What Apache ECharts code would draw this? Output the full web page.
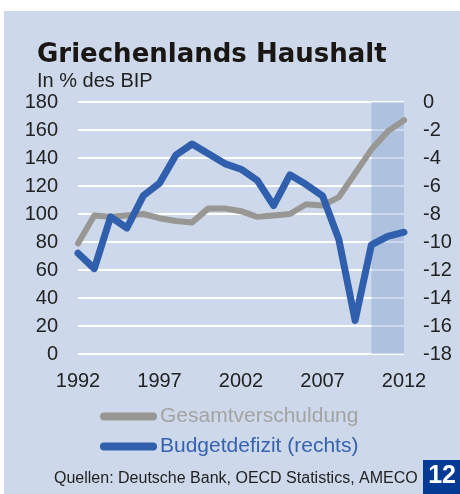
<!DOCTYPE html>
<html>
<head>
<meta charset="utf-8">
<script src="https://cdn.jsdelivr.net/npm/echarts@6/dist/echarts.min.js"></script>
<style>
  html, body { margin: 0; padding: 0; background: #ffffff; }
  #chart { position: absolute; left: 4px; top: 11px; width: 456px; height: 483px; }
</style>
</head>
<body>
<div id="chart"></div>
<script>
var years = ['1992','1993','1994','1995','1996','1997','1998','1999','2000','2001','2002',
	'2003','2004','2005','2006','2007','2008','2009','2010','2011','2012'];
// Gesamtverschuldung, linke Achse
var schulden = [79, 99, 98, 99, 100, 97, 95, 94, 104, 104, 102, 98, 99, 100, 107, 106, 112, 129, 146, 159, 167];
// Budgetdefizit, rechte Achse
var defizit = [-10.8, -11.9, -8.2, -9.0, -6.7, -5.8, -3.8, -3.0, -3.7, -4.4, -4.8, -5.6, -7.4, -5.2, -5.9, -6.7, -9.8, -15.6, -10.2, -9.6, -9.3];
var prognoseVon = '2010';
var prognoseBis = '2012';

var font = '"Liberation Sans", Arial, sans-serif';
var myChart = echarts.init(document.getElementById('chart'));

myChart.setOption({
	backgroundColor: '#cdd8ea',
	animation: false,
	title: [{
		text: 'Griechenlands Haushalt',
		left: 33,
		top: 31,
		padding: 0,
		textStyle: { fontFamily: '"DejaVu Sans", sans-serif', fontWeight: 'bold', fontSize: 26, color: '#1a1614' }
	}, {
		text: 'In % des BIP',
		left: 33,
		top: 60,
		padding: 0,
		textStyle: { fontFamily: font, fontWeight: 'normal', fontSize: 20, color: '#222' }
	}, {
		text: 'Quellen: Deutsche Bank, OECD Statistics, AMECO',
		left: 50,
		top: 460,
		padding: 0,
		textStyle: { fontFamily: font, fontWeight: 'normal', fontSize: 16, color: '#222' }
	}],
	legend: {
		orient: 'vertical',
		left: 96,
		top: 395,
		padding: 0,
		itemWidth: 57,
		itemHeight: 8,
		itemGap: 9,
		icon: 'path://M4,0H53A4,4,0,0,1,53,8H4A4,4,0,0,1,4,0Z',
		textStyle: { fontFamily: font, fontSize: 21, padding: [0, 0, 0, -2] },
		data: [
			{ name: 'Gesamtverschuldung', textStyle: { color: '#a3a3a3' } },
			{ name: 'Budgetdefizit (rechts)', textStyle: { color: '#3562b0' } }
		]
	},
	grid: { left: 74, right: 56, top: 91, bottom: 140 },
	xAxis: {
		type: 'category',
		data: years,
		boundaryGap: false,
		axisLine: { show: false },
		axisTick: { show: false },
		axisLabel: { interval: 4, fontFamily: font, fontSize: 20, color: '#222', margin: 17 }
	},
	yAxis: [{
		type: 'value',
		min: 0,
		max: 180,
		interval: 20,
		axisLine: { show: false },
		axisTick: { show: false },
		axisLabel: { fontFamily: font, fontSize: 20, color: '#222', margin: 20 },
		splitLine: { lineStyle: { color: '#ffffff', width: 2 } }
	}, {
		type: 'value',
		min: -18,
		max: 0,
		interval: 2,
		axisLine: { show: false },
		axisTick: { show: false },
		axisLabel: { fontFamily: font, fontSize: 20, color: '#222', margin: 19 },
		splitLine: { show: false }
	}],
	series: [{
		name: 'Gesamtverschuldung',
		type: 'line',
		data: schulden,
		yAxisIndex: 0,
		symbol: 'none',
		z: 2,
		lineStyle: { color: '#999794', width: 6, join: 'round', cap: 'round' },
		itemStyle: { color: '#999794' }
	}, {
		name: 'Budgetdefizit (rechts)',
		type: 'line',
		data: defizit,
		yAxisIndex: 1,
		symbol: 'none',
		z: 3,
		lineStyle: { color: '#2f5fad', width: 7, join: 'round', cap: 'round' },
		itemStyle: { color: '#2f5fad' }
	}, {
		// Prognosebereich, über den Linien
		name: 'Prognose',
		type: 'line',
		data: [],
		z: 10,
		silent: true,
		markArea: {
			silent: true,
			itemStyle: { color: 'rgba(127,159,208,0.4)' },
			data: [[{ xAxis: prognoseVon, yAxis: 'max' }, { xAxis: prognoseBis, yAxis: 'min' }]]
		}
	}],
	graphic: [{
		type: 'rect',
		right: 0,
		bottom: 0,
		shape: { width: 37, height: 34 },
		style: { fill: '#033a94' }
	}, {
		type: 'text',
		right: 4,
		bottom: 5,
		style: { text: '12', fill: '#ffffff', font: 'bold 25px "Liberation Sans", Arial, sans-serif' }
	}]
});
window.addEventListener('resize', function () {
	myChart.resize();
});
</script>
</body>
</html>
